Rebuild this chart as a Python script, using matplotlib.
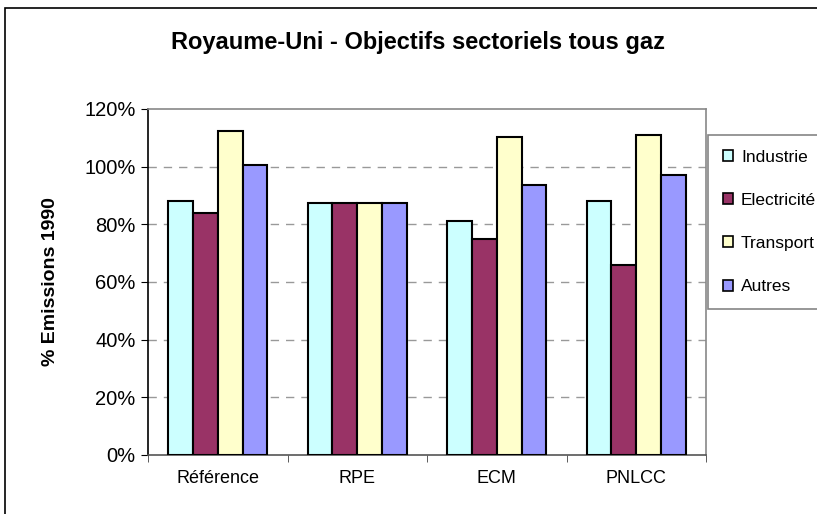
import numpy as np
import matplotlib
matplotlib.use('Agg')
import matplotlib.pyplot as plt
from matplotlib.patches import Rectangle
from matplotlib.ticker import FuncFormatter

plt.rcParams['font.family'] = ['Liberation Sans', 'DejaVu Sans']

# data (% of 1990 emissions)
scenarios = ['Référence', 'RPE', 'ECM', 'PNLCC']
sectors = ['Industrie', 'Electricité', 'Transport', 'Autres']
industrie = [88.1, 87.4, 81.2, 88.1]
electricite = [84.0, 87.4, 75.0, 66.0]
transport = [112.4, 87.4, 110.3, 111.0]
autres = [100.6, 87.4, 93.7, 97.2]
colors = ['#CCFFFF', '#993366', '#FFFFCC', '#9999FF']

fig = plt.figure(figsize=(8.17, 5.14), dpi=100)
ax = fig.add_axes([148/817, 1-455/514, (706-148)/817, (455-109)/514])

x = np.arange(len(scenarios))
w = 0.178
series = [industrie, electricite, transport, autres]
for i, (vals, col, lab) in enumerate(zip(series, colors, sectors)):
    ax.bar(x + (i - 1.5)*w, vals, width=w, color=col, edgecolor='black',
           linewidth=1.5, label=lab, zorder=3)

ax.set_xlim(-0.5, len(scenarios) - 0.5)
ax.set_ylim(0, 120)
ax.set_yticks(np.arange(0, 121, 20))
ax.yaxis.set_major_formatter(FuncFormatter(lambda v, p: '%d%%' % v))
ax.set_xticks(x)
ax.set_xticklabels(scenarios, fontsize=13)
ax.set_xticks(np.arange(-0.5, len(scenarios), 1), minor=True)
ax.tick_params(axis='x', which='major', length=0, pad=11)
ax.tick_params(axis='x', which='minor', length=5, direction='out', color='#404040')
ax.tick_params(axis='y', labelsize=14.5, length=5, direction='out', pad=4)

for yv in range(20, 101, 20):
    ax.axhline(yv, color='#999999', lw=1, dashes=(6, 5), zorder=1)

ax.spines['left'].set_color('black')
ax.spines['bottom'].set_color('#555555')
ax.spines['top'].set_color('#888888')
ax.spines['right'].set_color('#888888')
for s in ax.spines.values():
    s.set_linewidth(1.2)

ax.set_ylabel('% Emissions 1990', fontsize=14, fontweight='bold', labelpad=18)
fig.text(418/817, 1-42/514, 'Royaume-Uni - Objectifs sectoriels tous gaz',
         ha='center', va='center', fontsize=17, fontweight='bold')

leg = fig.legend(loc='upper left', bbox_to_anchor=(708/817, 1-135/514),
                 fontsize=12.5, frameon=True, fancybox=False, handlelength=0.6,
                 handleheight=0.6, handletextpad=0.45, labelspacing=1.62,
                 borderpad=0.85, borderaxespad=0)
leg.get_frame().set_edgecolor('#666666')
leg.get_frame().set_linewidth(1.2)
for h in leg.legend_handles:
    h.set_linewidth(1.2)

fig.patches.append(Rectangle((5/817, -0.01), 1.0, 1-8/514+0.01, transform=fig.transFigure,
                             fill=False, edgecolor='black', lw=1.2))

fig.savefig('out.png', dpi=100)
